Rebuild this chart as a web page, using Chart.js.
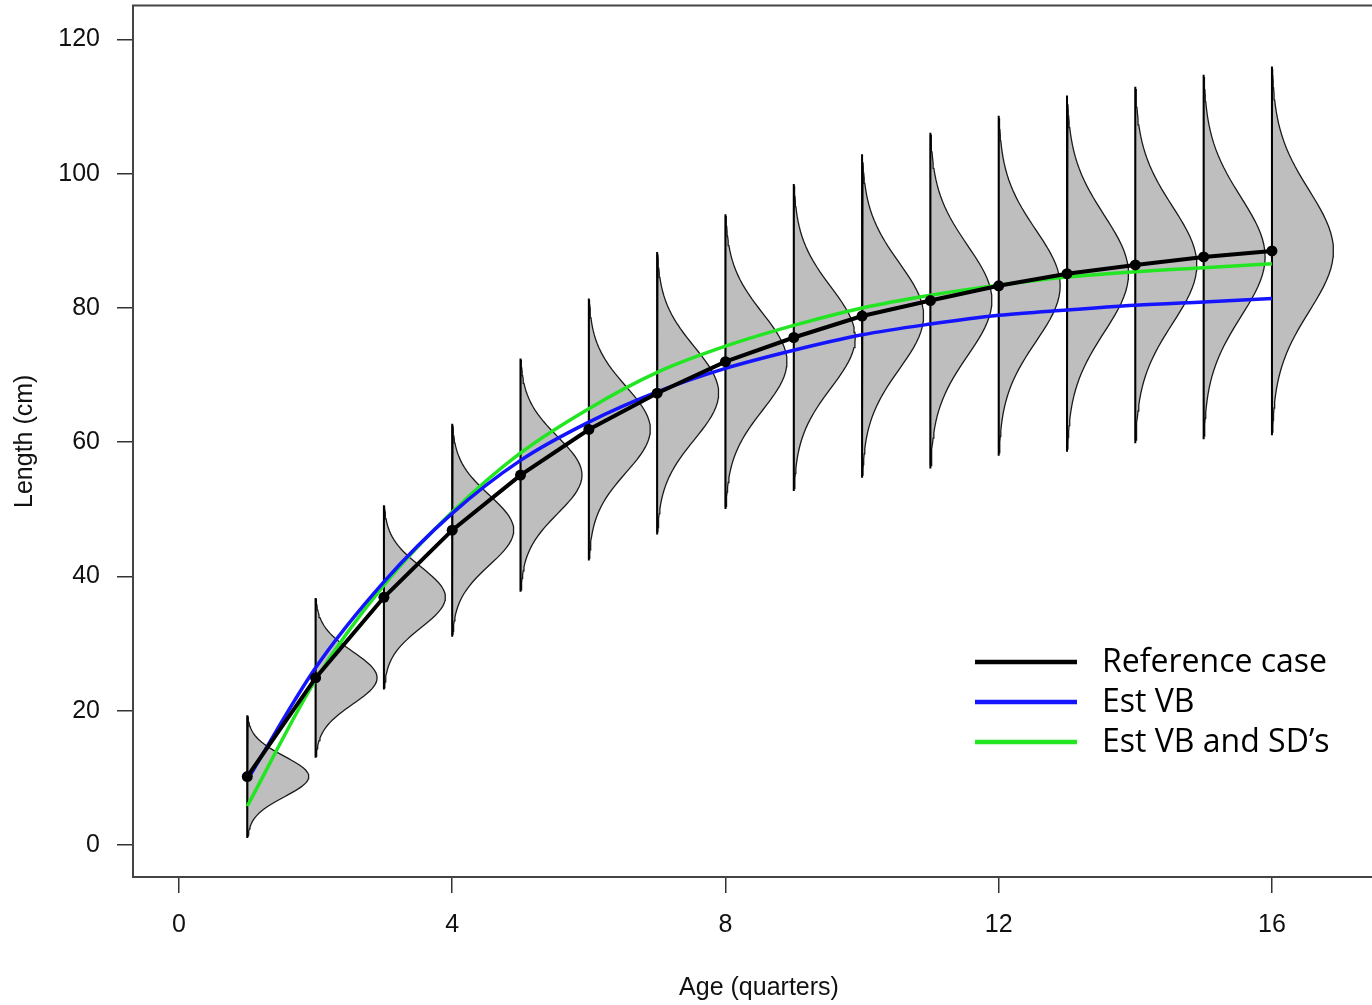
<!DOCTYPE html>
<html>
<head>
<meta charset="utf-8">
<script src="https://cdn.jsdelivr.net/npm/chart.js@4.4.1/dist/chart.umd.min.js"></script>
<style>
  html, body { margin: 0; padding: 0; background: #fff; overflow: hidden; }
  #wrap { width: 1400px; height: 1005px; }
</style>
</head>
<body>
<div id="wrap"><canvas id="growthChart" width="1400" height="1005"></canvas></div>
<script>
// age in quarters
let ages = [1, 2, 3, 4, 5, 6, 7, 8, 9, 10, 11, 12, 13, 14, 15, 16]
// reference case: mean length at age and its spread
let refLength = [10.2, 24.9, 36.9, 46.9, 55.1, 61.9, 67.3, 72.0, 75.6, 78.8, 81.1, 83.3, 85.1, 86.4, 87.6, 88.5]
let refSD = [3.0, 3.9, 4.5, 5.2, 5.7, 6.4, 6.9, 7.2, 7.5, 7.9, 8.2, 8.3, 8.7, 8.7, 8.9, 9.0]
// fitted curves
let estVB = [9.7, 26.4, 39.2, 49.4, 57.3, 63.0, 67.5, 71.0, 73.7, 76.0, 77.6, 78.9, 79.7, 80.4, 80.9, 81.4]
let estVBSD = [5.8, 24.6, 38.7, 49.6, 58.4, 65.0, 70.4, 74.3, 77.4, 80.0, 81.9, 83.4, 84.6, 85.4, 86.0, 86.6]
// axis ticks
let xTicks = [0, 4, 8, 12, 16]
let yTicks = [0, 20, 40, 60, 80, 100, 120]
let legendLabels = ["Reference case", "Est VB", "Est VB and SD\u2019s"]
let legendColors = ["#000000", "#1414ff", "#22e622"]

const peakWidth = 0.9   // how far right (in age units) the density peak reaches
const axisFont = { family: "'Liberation Sans', Arial, sans-serif", size: 25 }

// half-normal outline to the right of each age
function densityShape(age, mean, sd) {
    let pts = []
    for (let i = 0; i <= 60; i++) {
        let z = -3 + i * 0.1
        pts.push({ x: age + peakWidth * Math.exp(-z * z / 2), y: mean + z * sd })
    }
    pts.push({ x: age, y: mean + 3 * sd })
    pts.push({ x: age, y: mean - 3 * sd })
    return pts
}

let datasets = []

datasets.push({
    label: legendLabels[0],
    data: ages.map((a, i) => ({ x: a, y: refLength[i] })),
    showLine: true,
    borderColor: legendColors[0],
    backgroundColor: legendColors[0],
    borderWidth: 4,
    pointRadius: 5.5,
    pointBorderWidth: 0,
    tension: 0,
    order: 0
})
datasets.push({
    label: legendLabels[1],
    data: ages.map((a, i) => ({ x: a, y: estVB[i] })),
    showLine: true,
    borderColor: legendColors[1],
    borderWidth: 3.5,
    pointRadius: 0,
    cubicInterpolationMode: "monotone",
    order: 1
})
datasets.push({
    label: legendLabels[2],
    data: ages.map((a, i) => ({ x: a, y: estVBSD[i] })),
    showLine: true,
    borderColor: legendColors[2],
    borderWidth: 3.5,
    pointRadius: 0,
    cubicInterpolationMode: "monotone",
    order: 2
})
ages.forEach((a, i) => {
    // vertical spine at the age
    datasets.push({
        label: "spine " + a,
        data: [{ x: a, y: refLength[i] - 3.05 * refSD[i] }, { x: a, y: refLength[i] + 3.05 * refSD[i] }],
        showLine: true,
        borderColor: "#000",
        borderWidth: 2,
        pointRadius: 0,
        order: 3
    })
    datasets.push({
        label: "density " + a,
        data: densityShape(a, refLength[i], refSD[i]),
        showLine: true,
        fill: "shape",
        backgroundColor: "#bebebe",
        borderColor: "#1a1a1a",
        borderWidth: 1.3,
        pointRadius: 0,
        tension: 0,
        order: 4
    })
})

// box around the plotting region and the line legend
const frameAndLegend = {
    id: "frameAndLegend",
    afterDraw(chart) {
        const ctx = chart.ctx
        const a = chart.chartArea
        ctx.save()
        ctx.strokeStyle = "#444"
        ctx.lineWidth = 2
        ctx.strokeRect(a.left, a.top, a.right - a.left, a.bottom - a.top)

        ctx.font = "32px 'Open Sans', Lato, sans-serif"
        ctx.textBaseline = "middle"
        ctx.fillStyle = "#000"
        legendLabels.forEach((lab, i) => {
            let y = 662 + i * 40
            ctx.strokeStyle = legendColors[i]
            ctx.lineWidth = 4.5
            ctx.beginPath()
            ctx.moveTo(975, y)
            ctx.lineTo(1077, y)
            ctx.stroke()
            ctx.fillText(lab, 1102, y + 1)
        })
        ctx.restore()
    }
}

function noPad(s) {
    s.paddingTop = 0
    s.paddingBottom = 0
    s.paddingLeft = 0
    s.paddingRight = 0
}

let myChart = document.getElementById("growthChart").getContext("2d")
let chart = new Chart(myChart, {
    type: "scatter",
    data: { datasets: datasets },
    options: {
        responsive: false,
        animation: false,
        layout: { padding: { top: 5, right: 15 } },
        plugins: {
            legend: { display: false },
            tooltip: { enabled: false }
        },
        scales: {
            x: {
                type: "linear",
                min: -0.673,
                max: 17.655,
                afterBuildTicks: (s) => { s.ticks = xTicks.map(v => ({ value: v })) },
                afterFit: (s) => { s.height = 128; noPad(s) },
                grid: { drawOnChartArea: false, drawTicks: true, tickLength: 16, color: "#333", lineWidth: 1.5 },
                border: { display: true, color: "#444", width: 2 },
                ticks: { color: "#111", font: axisFont, padding: 17, maxRotation: 0 },
                title: { display: true, text: "Age (quarters)", color: "#111", font: axisFont, padding: { top: 0, bottom: 2 } }
            },
            y: {
                type: "linear",
                min: -4.76,
                max: 125.05,
                afterBuildTicks: (s) => { s.ticks = yTicks.map(v => ({ value: v })) },
                afterFit: (s) => { s.width = 133; noPad(s) },
                grid: { drawOnChartArea: false, drawTicks: true, tickLength: 16, color: "#333", lineWidth: 1.5 },
                border: { display: true, color: "#444", width: 2 },
                ticks: { color: "#111", font: axisFont, padding: 17 },
                title: { display: true, text: "Length (cm)", color: "#111", font: axisFont, padding: { top: 10, bottom: 0 } }
            }
        }
    },
    plugins: [frameAndLegend]
})
</script>
</body>
</html>
